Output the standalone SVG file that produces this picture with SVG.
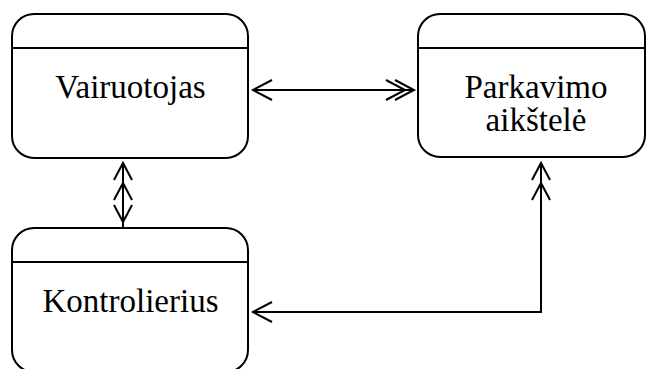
<svg xmlns="http://www.w3.org/2000/svg" width="646" height="369" viewBox="0 0 646 369">
  <style>
    .box { fill: #ffffff; stroke: #000000; stroke-width: 2; }
    .div { stroke: #000000; stroke-width: 2; }
    .lbl { font-family: "Liberation Serif", "Times New Roman", serif; font-size: 33px; fill: #000000; text-anchor: middle; }
    .wire { fill: none; stroke: #000000; stroke-width: 2; }
    .head { fill: none; stroke: #000000; stroke-width: 2; stroke-linejoin: miter; }
  </style>
  <rect width="646" height="369" fill="#ffffff"/>

  <g id="vairuotojas">
    <rect class="box" x="12" y="14" width="236" height="144" rx="22" ry="22"/>
    <line class="div" x1="12" y1="48" x2="248" y2="48"/>
    <text class="lbl" x="130.5" y="98">Vairuotojas</text>
  </g>

  <g id="parkavimo-aikstele">
    <rect class="box" x="418" y="14" width="227" height="143" rx="22" ry="22"/>
    <line class="div" x1="418" y1="48" x2="645" y2="48"/>
    <text class="lbl" x="536" y="98">Parkavimo</text>
    <text class="lbl" x="536" y="131">aikštelė</text>
  </g>

  <g id="kontrolierius">
    <rect class="box" x="12" y="228" width="236" height="144" rx="22" ry="22"/>
    <line class="div" x1="12" y1="262" x2="248" y2="262"/>
    <text class="lbl" x="130.5" y="312">Kontrolierius</text>
  </g>

  <g id="connectors">
    <!-- Vairuotojas <-> Parkavimo aikštelė -->
    <line class="wire" x1="253" y1="90" x2="414" y2="90"/>
    <path class="head" d="M272,80 L253,90 L272,100"/>
    <path class="head" d="M395,80 L414,90 L395,100"/>
    <path class="head" d="M386,80 L405,90 L386,100"/>

    <!-- Vairuotojas <-> Kontrolierius -->
    <line class="wire" x1="123" y1="163" x2="123" y2="228"/>
    <path class="head" d="M114,180 L123,163 L132,180"/>
    <path class="head" d="M114,200 L123,183 L132,200"/>
    <path class="head" d="M114,205 L123,222 L132,205"/>

    <!-- Kontrolierius <-> Parkavimo aikštelė -->
    <polyline class="wire" points="253,312 541,312 541,163"/>
    <path class="head" d="M272,302 L253,312 L272,322"/>
    <path class="head" d="M532,180 L541,163 L550,180"/>
    <path class="head" d="M532,200 L541,183 L550,200"/>
  </g>
</svg>
